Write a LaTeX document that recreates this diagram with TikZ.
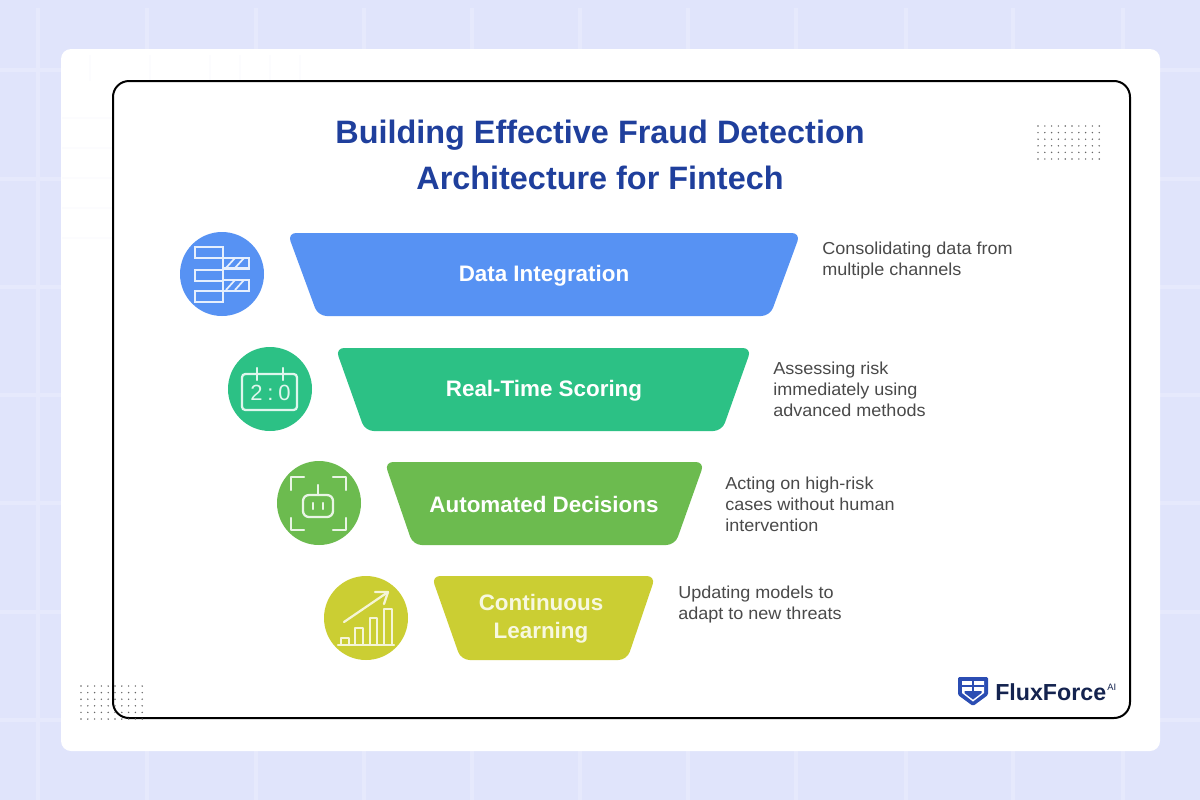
\documentclass[tikz,border=0pt]{standalone}
\usepackage{fontspec}
\setmainfont{Liberation Sans}
\newfontfamily\clockfont[LetterSpace=22]{Liberation Sans}
\newfontfamily\descfont[FakeStretch=1.04]{Liberation Sans}
\usetikzlibrary{arrows.meta}
\definecolor{bgl}{HTML}{E0E4FB}
\definecolor{bgline}{HTML}{E6E9FC}
\definecolor{cardline}{HTML}{FCFCFE}
\definecolor{cblue}{HTML}{5792F3}
\definecolor{cgreen}{HTML}{2CC185}
\definecolor{clime}{HTML}{6CBB4F}
\definecolor{cyel}{HTML}{CBCE33}
\definecolor{titlec}{HTML}{1F3F9C}
\definecolor{descc}{HTML}{4A4A4A}
\definecolor{logoblue}{HTML}{2B4DB3}
\definecolor{logonavy}{HTML}{14234F}
\tikzset{
  x=0.75pt,y=-0.75pt,
  trap/.style={line join=round,rounded corners=6.5pt},
  lab/.style={font=\fontsize{16.8pt}{21pt}\selectfont\bfseries,text=white,align=center,inner sep=0pt},
  desc/.style={font=\descfont\fontsize{13pt}{15.9pt}\selectfont,text=descc,align=left,anchor=west,inner sep=0pt},
  icb/.style={draw=white!85!cblue,line width=1.7pt,line join=miter},
  icg/.style={draw=white!85!cgreen,line width=1.7pt,line cap=round,line join=round},
  icl/.style={draw=white!85!clime,line width=1.7pt,line cap=round,line join=round},
  icy/.style={draw=white!80!cyel,line width=1.7pt,line cap=round,line join=round},
}
\begin{document}
\begin{tikzpicture}
\useasboundingbox (0,0) rectangle (1200,800);
\fill[bgl] (0,0) rectangle (1200,800);
% background grid
\foreach \gx in {38,147,256,364,472,580,688,796,906,1013,1123}
  \draw[bgline,line width=3pt] (\gx,8) -- (\gx,800);
\foreach \gy in {70,179,287,395,503,612,720}
  \draw[bgline,line width=2.5pt] (0,\gy) -- (1200,\gy);
% card
\fill[white,rounded corners=7.5pt] (61,49) rectangle (1160,751);
\foreach \gx in {90,150,210,240,270,300}
  \draw[cardline,line width=1.2pt] (\gx,55) -- (\gx,81);
\foreach \gy in {118,148,178,208,238}
  \draw[cardline,line width=1.2pt] (62,\gy) -- (112,\gy);
% frame
\draw[black,line width=1.5pt,rounded corners=12pt] (113,81) rectangle (1130,718);
% dots
\foreach \i in {0,...,9} \foreach \j in {0,...,5} {
  \fill[black!60] (1038+\i*6.8,126+\j*6.6) circle[radius=0.8];
  \fill[black!60] (81+\i*6.8,686+\j*6.6) circle[radius=0.8];
}
% title
\node[font=\fontsize{24.3pt}{33pt}\selectfont\bfseries,text=titlec,align=center,inner sep=0pt] (title) at (600,154.5) {Building Effective Fraud Detection\\[1.6pt]Architecture for Fintech};
% trapezoids
\fill[cblue,trap] (287.5,233) -- (800.5,233) -- (770,316) -- (318,316) -- cycle;
\fill[cgreen,trap] (335.5,348) -- (751.5,348) -- (722,431) -- (365,431) -- cycle;
\fill[clime,trap] (384.5,462) -- (704.5,462) -- (675,545) -- (413,545) -- cycle;
\fill[cyel,trap] (431.5,576) -- (655.5,576) -- (627,660) -- (461,660) -- cycle;
\node[lab] (l1) at (544,275.5) {Data Integration};
\node[lab] (l2) at (544,390.5) {Real-Time Scoring};
\node[lab] (l3) at (544,504.5) {Automated Decisions};
\node[lab,text=white!85!cyel] (l4) at (541,619) {Continuous\\Learning};
% descriptions
\node[desc] (d1) at (822,260.5) {Consolidating data from\\multiple channels};
\node[desc] (d2) at (773,389.5) {Assessing risk\\immediately using\\advanced methods};
\node[desc] (d3) at (725,504) {Acting on high-risk\\cases without human\\intervention};
\node[desc] (d4) at (678,604.5) {Updating models to\\adapt to new threats};
% circles
\fill[cblue] (222,274) circle[radius=42];
\fill[cgreen] (270,389) circle[radius=42];
\fill[clime] (319,503) circle[radius=42];
\fill[cyel] (366,618) circle[radius=42];
% icon 1
\draw[icb] (195,247) rectangle (223,258);
\draw[icb] (195,270) rectangle (223,281);
\draw[icb] (195,291) rectangle (223,302);
\draw[icb] (223,258) rectangle (249,268.5);
\draw[icb] (223,280) rectangle (249,291);
\foreach \o in {0,22} {
 \draw[icb,line width=1.3pt] (226,268+\o) -- (235,258+\o);
 \draw[icb,line width=1.3pt] (235,268+\o) -- (244,258+\o);
}
% icon 2
\draw[icg,rounded corners=2.5pt] (242,374) rectangle (297,410);
\draw[icg] (257,368) -- (257,380);
\draw[icg] (283,368) -- (283,380);
\node[inner sep=0pt,text=white!85!cgreen,font=\clockfont\fontsize{16.5pt}{17pt}\selectfont] (clock) at (270.5,392.5) {2:0};
% icon 3
\draw[icl] (291,490) -- (291,477) -- (304,477);
\draw[icl] (333,477) -- (346,477) -- (346,490);
\draw[icl] (291,518) -- (291,530) -- (304,530);
\draw[icl] (333,530) -- (346,530) -- (346,518);
\draw[icl,rounded corners=4.5pt] (303,495) rectangle (333,517);
\draw[icl] (318,485) -- (318,495);
\draw[icl] (313,503) -- (313,509);
\draw[icl] (323,503) -- (323,509);
% icon 4
\draw[icy] (338,645) -- (394,645);
\draw[icy] (341,645) -- (341,638) -- (349,638) -- (349,645);
\draw[icy] (355,645) -- (355,628) -- (363,628) -- (363,645);
\draw[icy] (370,645) -- (370,618) -- (377,618) -- (377,645);
\draw[icy] (384,645) -- (384,609) -- (392,609) -- (392,645);
\draw[icy] (344,622) -- (388,592);
\draw[icy] (375,592) -- (388,592) -- (384,604);
% logo
\fill[logoblue,rounded corners=1pt] (958,677) -- (988,677) -- (988,695) -- (973,706) -- (958,695) -- cycle;
\fill[white] (962,681) -- (984,681) -- (984,693) -- (973,701.5) -- (962,693) -- cycle;
\fill[logoblue] (962,684.5) rectangle (984,686.5);
\fill[logoblue] (972,681) rectangle (974,691);
\fill[logoblue] (964.5,691) -- (981.5,691) -- (981.5,693) -- (973,699.5) -- (964.5,693) -- cycle;
\node[anchor=west,inner sep=0pt,text=logonavy,font=\fontsize{17.4pt}{20pt}\selectfont\bfseries] (brand) at (995,692) {FluxForce};
\node[anchor=west,inner sep=0pt,text=logonavy,font=\fontsize{7pt}{8pt}\selectfont] (brandai) at (1107,687.5) {AI};
\end{tikzpicture}
\end{document}
